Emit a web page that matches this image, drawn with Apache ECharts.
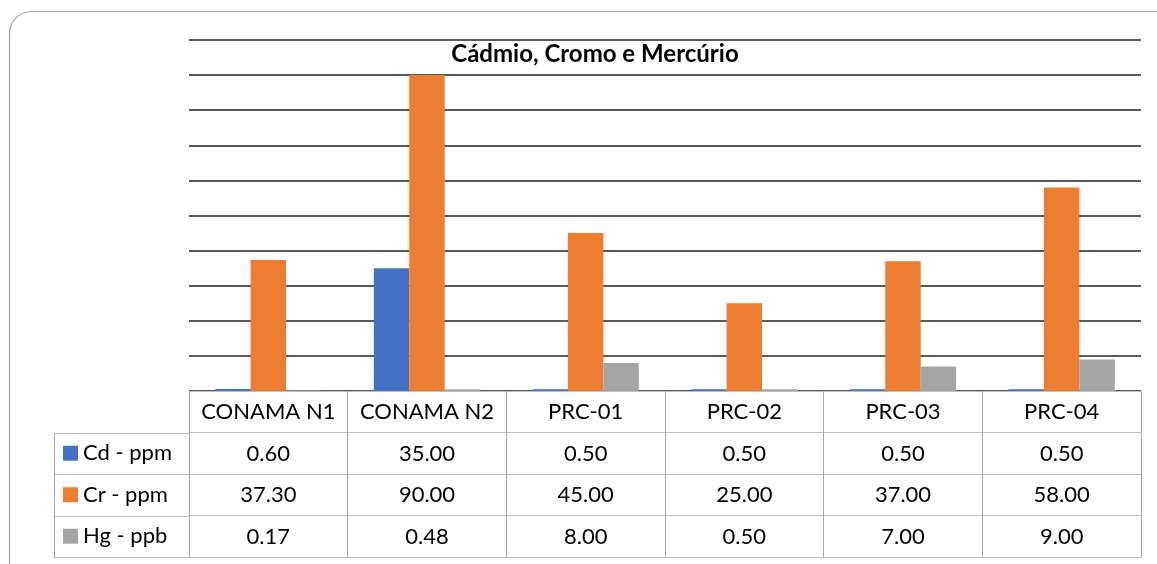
<!DOCTYPE html>
<html>
<head>
<meta charset="utf-8">
<script src="https://cdn.jsdelivr.net/npm/echarts@6/dist/echarts.min.js"></script>
<style>
  html, body { margin: 0; padding: 0; background: #fff; }
  #chart { width: 1157px; height: 564px; }
</style>
</head>
<body>
<div id="chart"></div>
<script>
// data
const categories = ["CONAMA N1", "CONAMA N2", "PRC-01", "PRC-02", "PRC-03", "PRC-04"];
const seriesNames = ["Cd - ppm", "Cr - ppm", "Hg - ppb"];
const cdValues = [0.6, 35, 0.5, 0.5, 0.5, 0.5];
const crValues = [37.3, 90, 45, 25, 37, 58];
const hgValues = [0.17, 0.48, 8, 0.5, 7, 9];
const colors = ["#4472C4", "#ED7D31", "#A5A5A5"];

const allValues = [cdValues, crValues, hgValues];
const FONT = "Lato";
const FS = 22;
const ROW = 41.5;
const tableLine = "#a6a6a6";

var chartDom = document.getElementById("chart");
var myChart = echarts.init(chartDom);

// one x axis per table row, stacked under the plot
var xAxes = [{
  type: "category",
  data: categories,
  position: "bottom",
  z: 5,
  axisLine: { lineStyle: { color: "#bfbfbf", width: 1 } },
  axisTick: { show: true, interval: 0, length: ROW, lineStyle: { color: tableLine } },
  axisLabel: { interval: 0, margin: 10, fontFamily: FONT, fontSize: FS, color: "#000" },
}];
allValues.forEach((vals, k) => {
  xAxes.push({
    type: "category",
    data: categories,
    position: "bottom",
    offset: ROW * (k + 1),
    axisLine: { lineStyle: { color: "#bfbfbf", width: 1 } },
    axisTick: { show: true, interval: 0, length: ROW, lineStyle: { color: tableLine } },
    axisLabel: {
      interval: 0, margin: 10, fontFamily: FONT, fontSize: FS, color: "#000",
      formatter: (v, i) => vals[i].toFixed(2),
    },
  });
});
// bottom border of the table
xAxes.push({
  type: "category",
  data: categories,
  position: "bottom",
  offset: ROW * 4,
  axisLine: { lineStyle: { color: "#bfbfbf", width: 1 } },
  axisTick: { show: false },
  axisLabel: { show: false },
});

var leftLines = [];
for (let r = 1; r <= 4; r++) {
  const y = Math.round(391 + ROW * r) + 0.5;
  leftLines.push({
    type: "line",
    shape: { x1: 54, y1: y, x2: 189, y2: y },
    style: { stroke: "#bfbfbf", lineWidth: 1 },
  });
}
leftLines.push({
  type: "line",
  shape: { x1: 54.5, y1: Math.round(391 + ROW), x2: 54.5, y2: Math.round(391 + ROW * 4) + 1 },
  style: { stroke: tableLine, lineWidth: 1 },
});

// one legend per table row so each key sits in its own cell
var legends = seriesNames.map((name, k) => ({
  orient: "horizontal",
  left: 58,
  top: 391 + ROW * (k + 1) + (ROW - 22) / 2 - 5,
  selectedMode: false,
  icon: "rect",
  itemWidth: 15,
  itemHeight: 15,
  textStyle: { fontFamily: FONT, fontSize: FS, color: "#000" },
  data: [name],
}));

var option = {
  animation: false,
  color: colors,
  title: {
    text: "Cádmio, Cromo e Mercúrio",
    left: 590,
    top: 37,
    textAlign: "center",
    textStyle: { fontFamily: FONT, fontSize: 24, fontWeight: "bold", color: "#000" },
  },
  legend: legends,
  grid: { left: 189, right: 16, top: 40, bottom: 173 },
  xAxis: xAxes,
  yAxis: {
    type: "value",
    min: 0,
    max: 100,
    interval: 10,
    axisLabel: { show: false },
    axisLine: { show: false },
    axisTick: { show: false },
    splitLine: { lineStyle: { color: "#222", width: 1.5 } },
  },
  graphic: [
    {
      type: "rect",
      shape: { x: 9.5, y: 11.5, width: 1300, height: 700, r: 22 },
      style: { fill: "none", stroke: "#a0a0a0", lineWidth: 1.2 },
      z: -10,
    },
  ].concat(leftLines),
  series: seriesNames.map((name, k) => ({
    name: name,
    type: "bar",
    xAxisIndex: 0,
    barGap: "0%",
    barCategoryGap: "33%",
    data: allValues[k],
  })),
};

option && myChart.setOption(option);
</script>
</body>
</html>
